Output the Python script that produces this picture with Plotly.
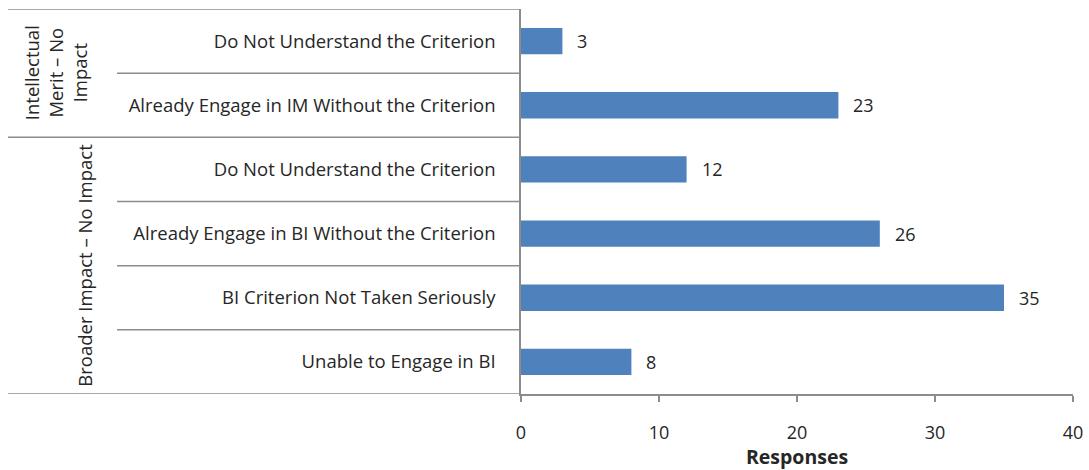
import plotly.graph_objects as go

# categories top to bottom
labels = [
    "Do Not Understand the Criterion",
    "Already Engage in IM Without the Criterion",
    "Do Not Understand the Criterion",
    "Already Engage in BI Without the Criterion",
    "BI Criterion Not Taken Seriously",
    "Unable to Engage in BI",
]
responses = [3, 23, 12, 26, 35, 8]
groups = ["Intellectual<br>Merit – No<br>Impact", "Broader Impact – No Impact"]
group_sizes = [2, 4]
x_ticks = [0, 10, 20, 30, 40]

pos = list(range(len(labels)))
FONT = "Open Sans"
FS = 18.5
TXT = "#262626"
LINE = "#8c8c8c"

fig = go.Figure()
fig.add_trace(go.Bar(
    x=responses, y=pos, orientation="h",
    marker=dict(color="#4f81bd", line=dict(width=0)),
    width=0.41,
))

# data labels
for v, p in zip(responses, pos):
    fig.add_annotation(x=v, y=p, text=str(v), showarrow=False,
                       xanchor="left", xshift=13, font=dict(size=18, color=TXT, family=FONT))

# left table: paper coords go negative past the plot
x_far = (8 - 521) / 552
x_mid = (117 - 521) / 552
shapes = []
# outer lines (top, group separators, bottom)
edges = [-0.5]
acc = -0.5
for n in group_sizes:
    acc += n
    edges.append(acc)
for e in edges:
    shapes.append(dict(type="line", xref="paper", yref="y", x0=x_far, x1=0, y0=e, y1=e,
                       line=dict(color=LINE, width=1.5)))
# inner separators between categories in the same group
start = 0
for n in group_sizes:
    for k in range(1, n):
        b = start + k - 0.5
        shapes.append(dict(type="line", xref="paper", yref="y", x0=x_mid, x1=0, y0=b, y1=b,
                           line=dict(color=LINE, width=1.5)))
    start += n
fig.update_layout(shapes=shapes)

# group labels, rotated
gx = [(55 - 521) / 552, (85 - 521) / 552]
start = 0
for g, n, x in zip(groups, group_sizes, gx):
    fig.add_annotation(x=x, xref="paper", y=start + (n - 1) / 2, yref="y", text=g,
                       textangle=-90, showarrow=False, xanchor="center", yanchor="middle",
                       font=dict(size=FS, color=TXT, family=FONT))
    start += n

fig.update_layout(
    width=1089, height=470,
    margin=dict(l=521, r=16, t=9, b=76),
    plot_bgcolor="white", paper_bgcolor="white",
    showlegend=False,
    font=dict(family=FONT, size=FS, color=TXT),
    xaxis=dict(range=[0, 40], tickvals=x_ticks, showgrid=False, zeroline=False,
               showline=True, linecolor=LINE, linewidth=1.5,
               ticks="outside", ticklen=6, tickcolor=LINE, tickwidth=1.5,
               ticklabelstandoff=16, automargin=False, tickfont=dict(size=18),
               title=dict(text="<b>Responses</b>", font=dict(size=19.5, family=FONT, color=TXT), standoff=0)),
    yaxis=dict(tickvals=pos, ticktext=labels, autorange=False, range=[5.5, -0.5],
               showgrid=False, zeroline=False, showline=True, linecolor=LINE, linewidth=1.5,
               ticks="", ticklabelstandoff=20, automargin=False),
)

# drop the default page margin so the figure sits at the window's corner
fig.write_html("out.html", config={"displayModeBar": False},
               post_script="document.body.style.margin='0';document.body.style.overflow='hidden';")
